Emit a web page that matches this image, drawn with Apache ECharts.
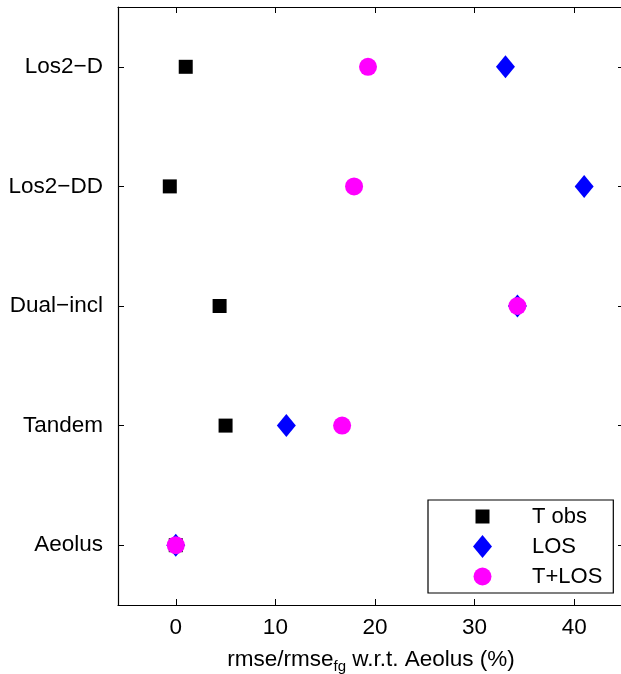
<!DOCTYPE html>
<html><head><meta charset="utf-8">
<script src="https://cdn.jsdelivr.net/npm/echarts@6/dist/echarts.min.js"></script>
<style>html,body{margin:0;padding:0;background:#fff}#c{width:621px;height:674px}</style>
</head><body><div id="c"></div>
<script>
const categories = ['Aeolus', 'Tandem', 'Dual\u2212incl', 'Los2\u2212DD', 'Los2\u2212D'];
const tObs = [0, 5.0, 4.4, -0.6, 1.0];
const los = [0, 11.1, 34.3, 41.0, 33.1];
const tLos = [0, 16.7, 34.3, 17.9, 19.3];
const xTicks = [0, 10, 20, 30, 40];
const seriesNames = ['T obs', 'LOS', 'T+LOS'];

const font = 'Liberation Sans, Arial, sans-serif';
const fs = 22.5;
const toData = arr => arr.map((v, i) => [v, categories[i]]);
const chart = echarts.init(document.getElementById('c'));
const axisLine = {show: true, onZero: false, lineStyle: {color: '#000', width: 1.2}};
const tick = {show: true, inside: true, length: 6, lineStyle: {color: '#000', width: 1}};
// legend icons with a fixed 23x23 frame so the marker keeps its plotted size
const iconSquare = 'path://M0,0M23,23M4.5,4.5L18.5,4.5L18.5,18.5L4.5,18.5Z';
const iconDiamond = 'path://M0,0M23,23M11.5,0L21,11.5L11.5,23L2,11.5Z';
const iconCircle = 'path://M0,0M23,23M20.5,11.5A9,9,0,1,1,2.5,11.5A9,9,0,1,1,20.5,11.5Z';
chart.setOption({
  animation: false,
  grid: {left: 118, top: 7, width: 506, height: 598, outerBoundsMode: 'none', containLabel: false},
  xAxis: [{
    type: 'value', min: -5.8, max: 45,
    axisLine: axisLine, splitLine: {show: false},
    axisLabel: {color: '#000', fontSize: fs, fontFamily: font, margin: 11,
      customValues: xTicks},
    axisTick: Object.assign({}, tick, {customValues: xTicks}),
    name: '{a|rmse/rmse}{s|fg}{a| w.r.t. Aeolus (%)}',
    nameLocation: 'middle', nameGap: 40,
    nameTextStyle: {rich: {
      a: {fontSize: fs, fontFamily: font, color: '#000'},
      s: {fontSize: 15, fontFamily: font, color: '#000', padding: [14, 0, 0, 0]}
    }}
  }, {
    type: 'value', min: -5.8, max: 45, position: 'top',
    axisLine: axisLine, axisLabel: {show: false}, splitLine: {show: false},
    axisTick: Object.assign({}, tick, {customValues: xTicks})
  }],
  yAxis: [{
    type: 'category', data: categories, boundaryGap: true,
    axisLine: axisLine,
    axisTick: Object.assign({}, tick, {alignWithLabel: true}),
    axisLabel: {color: '#000', fontSize: fs, fontFamily: font, margin: 15}
  }, {
    type: 'category', data: categories, boundaryGap: true, position: 'right',
    axisLine: axisLine, axisLabel: {show: false},
    axisTick: Object.assign({}, tick, {alignWithLabel: true})
  }],
  legend: {
    left: 428, top: 500, orient: 'vertical',
    backgroundColor: '#fff', borderColor: '#000', borderWidth: 1.2,
    padding: [5, 11, 5, 43], itemGap: 7, itemWidth: 23, itemHeight: 23,
    textStyle: {color: '#000', fontSize: 22, fontFamily: font, padding: [0, 0, 0, 33]},
    data: [
      {name: seriesNames[0], icon: iconSquare},
      {name: seriesNames[1], icon: iconDiamond},
      {name: seriesNames[2], icon: iconCircle}
    ]
  },
  series: [
    {name: seriesNames[0], type: 'scatter', symbol: 'rect', symbolSize: 14,
      itemStyle: {color: '#000', opacity: 1}, data: toData(tObs)},
    {name: seriesNames[1], type: 'scatter', symbol: 'diamond', symbolSize: [19, 23],
      itemStyle: {color: '#0000ff', opacity: 1}, data: toData(los)},
    {name: seriesNames[2], type: 'scatter', symbol: 'circle', symbolSize: 18,
      itemStyle: {color: '#ff00ff', opacity: 1}, data: toData(tLos)}
  ]
});
</script></body></html>
